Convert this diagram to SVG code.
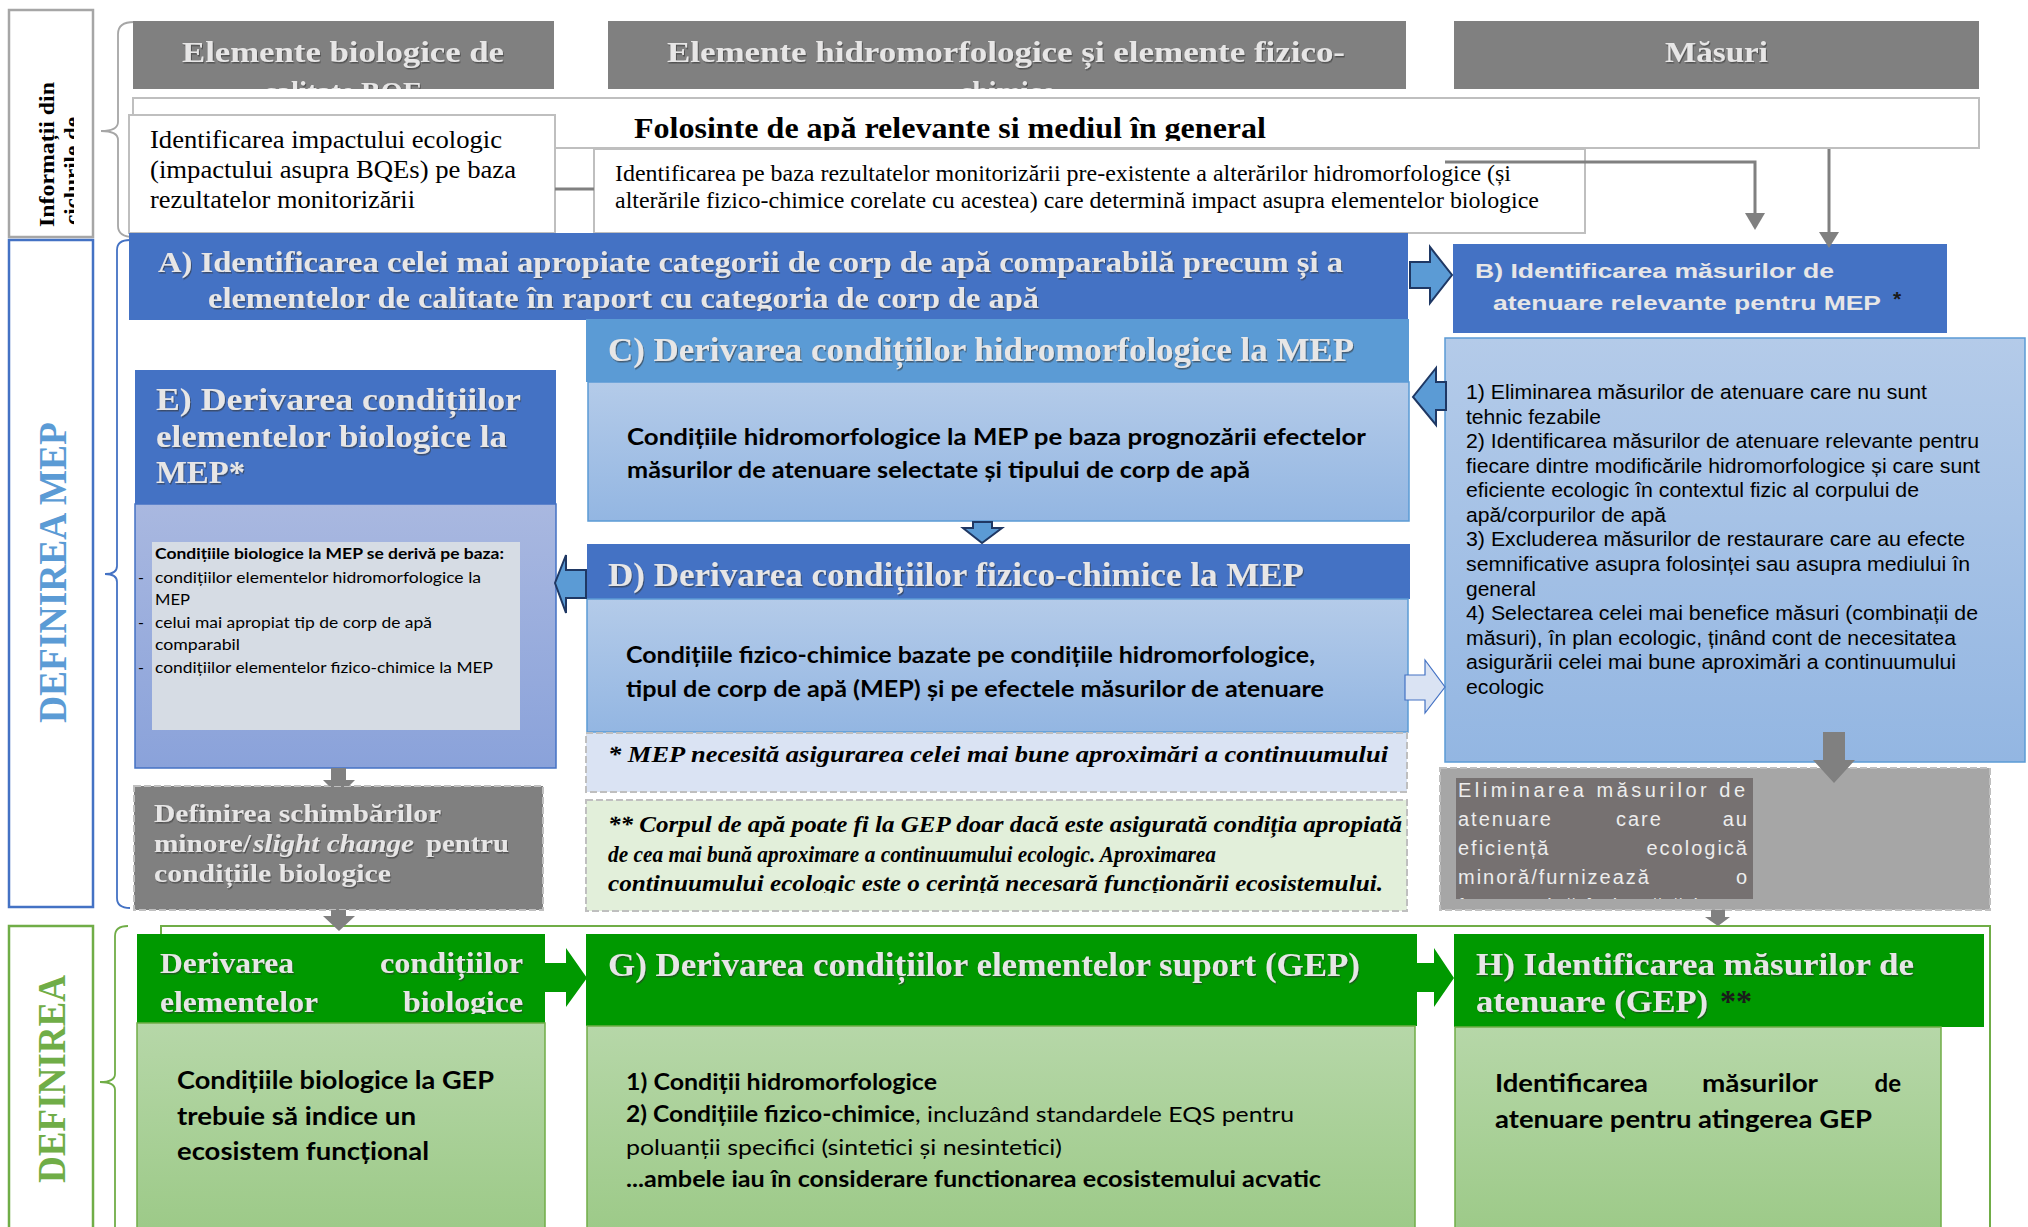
<svg xmlns="http://www.w3.org/2000/svg" width="2028" height="1227" viewBox="0 0 2028 1227">
<style>
.ser{font-family:"Liberation Serif","Times New Roman",serif}
.sans{font-family:"Liberation Sans",Arial,sans-serif}
.cal{font-family:Lato,"Open Sans",sans-serif}
.ttl{font-family:"Liberation Serif","Times New Roman",serif;font-weight:bold;fill:#E7E6E6;filter:url(#sh)}
.wbox{fill:#fff;stroke:#BFBFBF;stroke-width:2}
.dash{stroke:#BFBFBF;stroke-width:2;stroke-dasharray:7 3}
.blk{fill:#000}
.brace{fill:none;stroke-width:1.8}
.barrow{fill:#5B9BD5;stroke:#1F3864;stroke-width:2}
.garrow{fill:#808080}
.grn{fill:#009900}
</style>
<defs>
<linearGradient id="gBlue" x1="0" y1="0" x2="0" y2="1"><stop offset="0" stop-color="#B4CBE9"/><stop offset="1" stop-color="#93B6E2"/></linearGradient>
<linearGradient id="gE" x1="0" y1="0" x2="0" y2="1"><stop offset="0" stop-color="#A9B8E0"/><stop offset="1" stop-color="#8AA2DA"/></linearGradient>
<linearGradient id="gGreen" x1="0" y1="0" x2="0" y2="1"><stop offset="0" stop-color="#B6D7A8"/><stop offset="1" stop-color="#9BC986"/></linearGradient>
<filter id="sh" x="-5%" y="-30%" width="110%" height="160%"><feDropShadow dx="1" dy="1.5" stdDeviation="0.6" flood-color="#333" flood-opacity="0.6"/></filter>
<clipPath id="cInfo"><rect x="9" y="10" width="65" height="227"/></clipPath>
<clipPath id="cH1"><rect x="133" y="21" width="421" height="68"/></clipPath>
<clipPath id="cH2"><rect x="608" y="21" width="798" height="68"/></clipPath>
<clipPath id="cFol"><rect x="133" y="98" width="1846" height="43"/></clipPath>
<clipPath id="cA"><rect x="129" y="233" width="1279" height="78"/></clipPath>
<clipPath id="cF"><rect x="137" y="934" width="408" height="80"/></clipPath>
<clipPath id="cEl"><rect x="1456" y="778" width="297" height="121"/></clipPath>
<clipPath id="cN2"><rect x="586" y="800" width="821" height="93"/></clipPath>
</defs>

<g id="left-labels">
  <g id="label-info">
    <rect x="9" y="10" width="84" height="227" fill="#fff" stroke="#A6A6A6" stroke-width="2.5"/>
    <g clip-path="url(#cInfo)">
      <text class="ser" font-weight="bold" font-size="22" transform="translate(54,227) rotate(-90)" textLength="145" lengthAdjust="spacingAndGlyphs">Informații din</text>
      <text class="ser" font-weight="bold" font-size="22" transform="translate(79,225) rotate(-90)" textLength="108" lengthAdjust="spacingAndGlyphs">ciclurile de</text>
    </g>
    <path class="brace" stroke="#A6A6A6" d="M134,22 Q118,22 118,34 V122 Q118,131 101,131 Q118,131 118,140 V226 Q118,237 134,237"/>
  </g>
  <g id="label-mep">
    <rect x="9" y="240" width="84" height="667" fill="#fff" stroke="#4472C4" stroke-width="2.5"/>
    <text class="ser" font-weight="bold" font-size="40" fill="#5B9BD5" transform="translate(66,723) rotate(-90)" textLength="301" lengthAdjust="spacingAndGlyphs">DEFINIREA MEP</text>
    <path class="brace" stroke="#4472C4" d="M130,240 Q117,240 117,250 V566 Q117,574 105,574 Q117,574 117,582 V898 Q117,908 130,908"/>
  </g>
  <g id="label-gep">
    <rect x="9" y="926" width="84" height="320" fill="#fff" stroke="#70AD47" stroke-width="2.5"/>
    <text class="ser" font-weight="bold" font-size="40" fill="#70AD47" transform="translate(65,1183) rotate(-90)" textLength="208" lengthAdjust="spacingAndGlyphs">DEFINIREA</text>
    <path class="brace" stroke="#70AD47" d="M128,926 Q115,926 115,936 V1074 Q115,1082 100,1082 Q115,1082 115,1090 V1240"/>
  </g>
</g>

<g id="gep-frame">
  <rect x="161" y="926" width="1829" height="320" fill="#fff" stroke="#70AD47" stroke-width="2"/>
</g>

<g id="hdr-bio">
  <rect x="133" y="21" width="421" height="68" fill="#808080"/>
  <g clip-path="url(#cH1)">
    <text class="ttl" font-size="29" x="182" y="62" textLength="322" lengthAdjust="spacingAndGlyphs">Elemente biologice de</text>
    <text class="ttl" font-size="29" x="343" y="102" text-anchor="middle">calitate BQE</text>
  </g>
</g>
<g id="hdr-hidro">
  <rect x="608" y="21" width="798" height="68" fill="#808080"/>
  <g clip-path="url(#cH2)">
    <text class="ttl" font-size="29" x="667" y="62" textLength="678" lengthAdjust="spacingAndGlyphs">Elemente hidromorfologice și elemente fizico-</text>
    <text class="ttl" font-size="29" x="1007" y="102" text-anchor="middle">chimice</text>
  </g>
</g>
<g id="hdr-masuri">
  <rect x="1454" y="21" width="525" height="68" fill="#808080"/>
  <text class="ttl" font-size="29" x="1665" y="62" textLength="103" lengthAdjust="spacingAndGlyphs">Măsuri</text>
</g>

<g id="folosinte">
  <rect class="wbox" x="133" y="98" width="1846" height="50"/>
  <g clip-path="url(#cFol)">
    <text class="ser blk" font-weight="bold" font-size="29" x="634" y="138" textLength="632" lengthAdjust="spacingAndGlyphs">Folosinte de apă relevante si mediul în general</text>
  </g>
</g>

<g id="impact-ecologic">
  <rect class="wbox" x="129" y="115" width="426" height="118"/>
  <text class="ser blk" font-size="26" x="150" y="148" textLength="352" lengthAdjust="spacingAndGlyphs">Identificarea impactului ecologic</text>
  <text class="ser blk" font-size="26" x="150" y="178" textLength="366" lengthAdjust="spacingAndGlyphs">(impactului asupra BQEs) pe baza</text>
  <text class="ser blk" font-size="26" x="150" y="208" textLength="265" lengthAdjust="spacingAndGlyphs">rezultatelor monitorizării</text>
</g>

<g id="alterari">
  <rect class="wbox" x="594" y="149" width="991" height="84"/>
  <text class="ser blk" font-size="23" x="615" y="181" textLength="896" lengthAdjust="spacingAndGlyphs">Identificarea pe baza rezultatelor monitorizării pre-existente a alterărilor hidromorfologice (și</text>
  <text class="ser blk" font-size="23" x="615" y="208" textLength="924" lengthAdjust="spacingAndGlyphs">alterările fizico-chimice corelate cu acestea) care determină impact asupra elementelor biologice</text>
</g>

<g id="node-A">
  <rect x="129" y="233" width="1279" height="87" fill="#4472C4"/>
  <g clip-path="url(#cA)">
    <text class="ttl" font-size="29" x="158" y="272" textLength="1185" lengthAdjust="spacingAndGlyphs">A) Identificarea celei mai apropiate categorii de corp de apă comparabilă precum și a</text>
    <text class="ttl" font-size="29" x="208" y="308" textLength="831" lengthAdjust="spacingAndGlyphs">elementelor de calitate în raport cu categoria de corp de apă</text>
  </g>
</g>

<g id="node-B">
  <rect x="1453" y="244" width="494" height="89" fill="#4472C4"/>
  <text class="sans" font-weight="bold" font-size="21" fill="#E7E6E6" x="1475" y="278" textLength="359" lengthAdjust="spacingAndGlyphs">B) Identificarea măsurilor de</text>
  <text class="sans" font-weight="bold" font-size="21" fill="#E7E6E6" x="1493" y="310" textLength="388" lengthAdjust="spacingAndGlyphs">atenuare relevante pentru MEP</text>
  <text class="sans" font-weight="bold" font-size="21" fill="#1A1A1A" x="1893" y="306">*</text>
</g>

<g id="node-C">
  <rect x="586" y="319" width="823" height="63" fill="#5B9BD5"/>
  <text class="ttl" font-size="33" x="608" y="361" textLength="746" lengthAdjust="spacingAndGlyphs">C) Derivarea condițiilor hidromorfologice la MEP</text>
  <rect x="588" y="382" width="821" height="139" fill="url(#gBlue)" stroke="#5B9BD5" stroke-width="1.5"/>
  <text class="cal blk" font-weight="bold" font-size="22" x="627" y="445" textLength="739" lengthAdjust="spacingAndGlyphs">Condițiile hidromorfologice la MEP pe baza prognozării efectelor</text>
  <text class="cal blk" font-weight="bold" font-size="22" x="627" y="478" textLength="623" lengthAdjust="spacingAndGlyphs">măsurilor de atenuare selectate și tipului de corp de apă</text>
</g>

<g id="node-D">
  <rect x="587" y="544" width="823" height="55" fill="#4472C4"/>
  <text class="ttl" font-size="33" x="608" y="586" textLength="696" lengthAdjust="spacingAndGlyphs">D) Derivarea condițiilor fizico-chimice la MEP</text>
  <rect x="587" y="599" width="821" height="133" fill="url(#gBlue)" stroke="#5B9BD5" stroke-width="1.5"/>
  <text class="cal blk" font-weight="bold" font-size="22" x="626" y="663" textLength="689" lengthAdjust="spacingAndGlyphs">Condițiile fizico-chimice bazate pe condițiile hidromorfologice,</text>
  <text class="cal blk" font-weight="bold" font-size="22" x="626" y="697" textLength="698" lengthAdjust="spacingAndGlyphs">tipul de corp de apă (MEP) și pe efectele măsurilor de atenuare</text>
</g>

<g id="note-MEP">
  <rect class="dash" x="586" y="733" width="821" height="59" fill="#DAE3F3"/>
  <text class="ser blk" font-weight="bold" font-style="italic" font-size="24" x="608" y="762" textLength="780" lengthAdjust="spacingAndGlyphs">* MEP necesită asigurarea celei mai bune aproximări a continuumului</text>
</g>

<g id="note-GEP">
  <rect class="dash" x="586" y="800" width="821" height="111" fill="#E2EFDA"/>
  <g clip-path="url(#cN2)">
    <text class="ser blk" font-weight="bold" font-style="italic" font-size="24" x="608" y="832" textLength="794" lengthAdjust="spacingAndGlyphs">** Corpul de apă poate fi la GEP doar dacă este asigurată condiția apropiată</text>
    <text class="ser blk" font-weight="bold" font-style="italic" font-size="24" x="608" y="862" textLength="608" lengthAdjust="spacingAndGlyphs">de cea mai bună aproximare a continuumului ecologic. Aproximarea</text>
    <text class="ser blk" font-weight="bold" font-style="italic" font-size="24" x="608" y="891" textLength="775" lengthAdjust="spacingAndGlyphs">continuumului ecologic este o cerință necesară funcționării ecosistemului.</text>
  </g>
</g>

<g id="node-E">
  <rect x="135" y="370" width="421" height="134" fill="#4472C4"/>
  <text class="ttl" font-size="31" x="156" y="410" textLength="365" lengthAdjust="spacingAndGlyphs">E) Derivarea  condițiilor</text>
  <text class="ttl" font-size="31" x="156" y="447" textLength="351" lengthAdjust="spacingAndGlyphs">elementelor biologice la</text>
  <text class="ttl" font-size="31" x="156" y="483" textLength="89" lengthAdjust="spacingAndGlyphs">MEP*</text>
  <rect x="135" y="504" width="421" height="264" fill="url(#gE)" stroke="#4472C4" stroke-width="1.5"/>
  <rect x="152" y="542" width="368" height="188" fill="#D6DCE4"/>
  <text class="cal blk" font-weight="bold" font-size="16" x="155" y="559" textLength="349" lengthAdjust="spacingAndGlyphs">Condițiile biologice la MEP se derivă pe baza:</text>
  <text class="cal blk" font-size="16" x="138" y="583">-</text>
  <text class="cal blk" font-size="16" x="155" y="583" textLength="326" lengthAdjust="spacingAndGlyphs">condițiilor elementelor hidromorfologice la</text>
  <text class="cal blk" font-size="16" x="155" y="605" textLength="35" lengthAdjust="spacingAndGlyphs">MEP</text>
  <text class="cal blk" font-size="16" x="138" y="628">-</text>
  <text class="cal blk" font-size="16" x="155" y="628" textLength="277" lengthAdjust="spacingAndGlyphs">celui mai apropiat tip de corp de apă</text>
  <text class="cal blk" font-size="16" x="155" y="650" textLength="85" lengthAdjust="spacingAndGlyphs">comparabil</text>
  <text class="cal blk" font-size="16" x="138" y="673">-</text>
  <text class="cal blk" font-size="16" x="155" y="673" textLength="338" lengthAdjust="spacingAndGlyphs">condițiilor elementelor fizico-chimice la MEP</text>
</g>

<g id="node-slight-change">
  <rect class="dash" x="134" y="786" width="409" height="124" fill="#808080"/>
  <text class="ttl" font-size="25" x="154" y="822" textLength="287" lengthAdjust="spacingAndGlyphs">Definirea schimbărilor</text>
  <text class="ttl" font-size="25" x="154" y="852" textLength="97" lengthAdjust="spacingAndGlyphs">minore/</text>
  <text class="ttl" font-size="25" font-style="italic" x="253" y="852" textLength="161" lengthAdjust="spacingAndGlyphs">slight change</text>
  <text class="ttl" font-size="25" x="426" y="852" textLength="83" lengthAdjust="spacingAndGlyphs">pentru</text>
  <text class="ttl" font-size="25" x="154" y="882" textLength="237" lengthAdjust="spacingAndGlyphs">condițiile biologice</text>
</g>

<g id="node-measures">
  <rect x="1445" y="338" width="580" height="424" fill="url(#gBlue)" stroke="#5B9BD5" stroke-width="1.5"/>
  <g class="sans blk" font-size="20.5">
    <text x="1466" y="399" textLength="461" lengthAdjust="spacingAndGlyphs">1) Eliminarea măsurilor de atenuare care nu sunt</text>
    <text x="1466" y="424" textLength="135" lengthAdjust="spacingAndGlyphs">tehnic fezabile</text>
    <text x="1466" y="448" textLength="513" lengthAdjust="spacingAndGlyphs">2) Identificarea măsurilor de atenuare relevante pentru</text>
    <text x="1466" y="473" textLength="514" lengthAdjust="spacingAndGlyphs">fiecare dintre modificările hidromorfologice și care sunt</text>
    <text x="1466" y="497" textLength="453" lengthAdjust="spacingAndGlyphs">eficiente ecologic în contextul fizic al corpului de</text>
    <text x="1466" y="522" textLength="200" lengthAdjust="spacingAndGlyphs">apă/corpurilor de apă</text>
    <text x="1466" y="546" textLength="499" lengthAdjust="spacingAndGlyphs">3) Excluderea măsurilor de restaurare care au efecte</text>
    <text x="1466" y="571" textLength="504" lengthAdjust="spacingAndGlyphs">semnificative asupra folosinței sau asupra mediului în</text>
    <text x="1466" y="596" textLength="70" lengthAdjust="spacingAndGlyphs">general</text>
    <text x="1466" y="620" textLength="512" lengthAdjust="spacingAndGlyphs">4) Selectarea celei mai benefice măsuri (combinații de</text>
    <text x="1466" y="645" textLength="490" lengthAdjust="spacingAndGlyphs">măsuri), în plan ecologic, ținând cont de necesitatea</text>
    <text x="1466" y="669" textLength="490" lengthAdjust="spacingAndGlyphs">asigurării celei mai bune aproximări a continuumului</text>
    <text x="1466" y="694" textLength="78" lengthAdjust="spacingAndGlyphs">ecologic</text>
  </g>
</g>

<g id="node-eliminare">
  <rect class="dash" x="1440" y="768" width="550" height="142" fill="#A6A6A6"/>
  <rect x="1456" y="778" width="297" height="121" fill="#767171"/>
  <g clip-path="url(#cEl)" class="sans" font-size="20" fill="#EDEDED" letter-spacing="2">
    <text x="1458" y="797" textLength="289" lengthAdjust="spacing">Eliminarea măsurilor de</text>
    <text x="1458" y="826">atenuare</text>
    <text x="1616" y="826">care</text>
    <text x="1749" y="826" text-anchor="end">au</text>
    <text x="1458" y="855">eficiență</text>
    <text x="1749" y="855" text-anchor="end">ecologică</text>
    <text x="1458" y="884">minoră/furnizează</text>
    <text x="1749" y="884" text-anchor="end">o</text>
    <text x="1458" y="913">foarte mică îmbunătățire</text>
  </g>
</g>

<g id="node-F">
  <rect x="137" y="934" width="408" height="89" fill="#009900"/>
  <g clip-path="url(#cF)">
    <text class="ttl" font-size="29" x="160" y="973" textLength="134" lengthAdjust="spacingAndGlyphs">Derivarea</text>
    <text class="ttl" font-size="29" x="380" y="973" textLength="143" lengthAdjust="spacingAndGlyphs">condițiilor</text>
    <text class="ttl" font-size="29" x="160" y="1012" textLength="158" lengthAdjust="spacingAndGlyphs">elementelor</text>
    <text class="ttl" font-size="29" x="403" y="1012" textLength="120" lengthAdjust="spacingAndGlyphs">biologice</text>
  </g>
  <rect x="137" y="1023" width="408" height="220" fill="url(#gGreen)" stroke="#70AD47" stroke-width="1.5"/>
  <text class="cal blk" font-weight="bold" font-size="24" x="177" y="1089" textLength="317" lengthAdjust="spacingAndGlyphs">Condițiile biologice la GEP</text>
  <text class="cal blk" font-weight="bold" font-size="24" x="177" y="1125" textLength="239" lengthAdjust="spacingAndGlyphs">trebuie să indice un</text>
  <text class="cal blk" font-weight="bold" font-size="24" x="177" y="1160" textLength="252" lengthAdjust="spacingAndGlyphs">ecosistem funcțional</text>
</g>

<g id="node-G">
  <rect x="586" y="934" width="831" height="92" fill="#009900"/>
  <text class="ttl" font-size="34" x="608" y="976" textLength="752" lengthAdjust="spacingAndGlyphs">G) Derivarea condițiilor elementelor suport (GEP)</text>
  <rect x="587" y="1026" width="828" height="220" fill="url(#gGreen)" stroke="#70AD47" stroke-width="1.5"/>
  <text class="cal blk" font-weight="bold" font-size="22" x="626" y="1090" textLength="311" lengthAdjust="spacingAndGlyphs">1) Condiții hidromorfologice</text>
  <text class="cal blk" font-weight="bold" font-size="22" x="626" y="1122" textLength="289" lengthAdjust="spacingAndGlyphs">2) Condițiile fizico-chimice</text>
  <text class="cal blk" font-size="22" x="915" y="1122" textLength="379" lengthAdjust="spacingAndGlyphs">, incluzând standardele EQS pentru</text>
  <text class="cal blk" font-size="22" x="626" y="1155" textLength="436" lengthAdjust="spacingAndGlyphs">poluanții specifici (sintetici și nesintetici)</text>
  <text class="cal blk" font-weight="bold" font-size="22" x="626" y="1187" textLength="695" lengthAdjust="spacingAndGlyphs">...ambele iau în considerare functionarea ecosistemului acvatic</text>
</g>

<g id="node-H">
  <rect x="1454" y="934" width="530" height="93" fill="#009900"/>
  <text class="ttl" font-size="31" x="1476" y="975" textLength="438" lengthAdjust="spacingAndGlyphs">H) Identificarea măsurilor de</text>
  <text class="ttl" font-size="31" x="1476" y="1012" textLength="232" lengthAdjust="spacingAndGlyphs">atenuare (GEP)</text>
  <text class="ser" font-weight="bold" font-size="31" fill="#1A1A1A" x="1720" y="1012" textLength="32" lengthAdjust="spacingAndGlyphs">**</text>
  <rect x="1455" y="1027" width="486" height="220" fill="url(#gGreen)" stroke="#70AD47" stroke-width="1.5"/>
  <text class="cal blk" font-weight="bold" font-size="24" x="1495" y="1092" textLength="153" lengthAdjust="spacingAndGlyphs">Identificarea</text>
  <text class="cal blk" font-weight="bold" font-size="24" x="1702" y="1092" textLength="116" lengthAdjust="spacingAndGlyphs">măsurilor</text>
  <text class="cal blk" font-weight="bold" font-size="24" x="1901" y="1092" text-anchor="end">de</text>
  <text class="cal blk" font-weight="bold" font-size="24" x="1495" y="1128" textLength="377" lengthAdjust="spacingAndGlyphs">atenuare pentru atingerea GEP</text>
</g>

<g id="connectors">
  <line x1="555" y1="189" x2="594" y2="189" stroke="#808080" stroke-width="3"/>
  <path d="M1445,162 H1755 V216" fill="none" stroke="#808080" stroke-width="3"/>
  <polygon class="garrow" points="1745,213 1765,213 1755,230"/>
  <path d="M1829,149 V234" fill="none" stroke="#808080" stroke-width="3"/>
  <polygon class="garrow" points="1819,232 1839,232 1829,248"/>
  <polygon class="barrow" points="1410,262 1430,262 1430,247 1452,275 1430,303 1430,288 1410,288"/>
  <polygon class="barrow" points="1446,382 1436,382 1436,368 1413,397 1436,425 1436,410 1446,410"/>
  <polygon class="barrow" points="973,522 992,522 992,528 1002,528 982,543 963,528 973,528"/>
  <polygon class="barrow" points="586,570 566,570 566,555 555,583 566,613 566,598 586,598"/>
  <polygon points="1405,675 1425,675 1425,660 1445,687 1425,713 1425,700 1405,700" fill="#DAE3F3" stroke="#4472C4" stroke-width="1.2"/>
  <polygon class="garrow" points="1823,732 1845,732 1845,760 1855,760 1834,783 1813,760 1823,760"/>
  <polygon class="garrow" points="331,768 346,768 346,780 355,780 349,786 329,786 323,780 331,780"/>
  <polygon class="garrow" points="331,910 346,910 346,916 355,916 339,931 323,916 331,916"/>
  <polygon class="garrow" points="1711,910 1725,910 1725,917 1730,917 1718,926 1705,917 1711,917"/>
  <polygon class="grn" points="545,963 566,963 566,948 587,978 566,1007 566,992 545,992"/>
  <polygon class="grn" points="1415,963 1434,963 1434,948 1454,978 1434,1007 1434,992 1415,992"/>
</g>
</svg>
